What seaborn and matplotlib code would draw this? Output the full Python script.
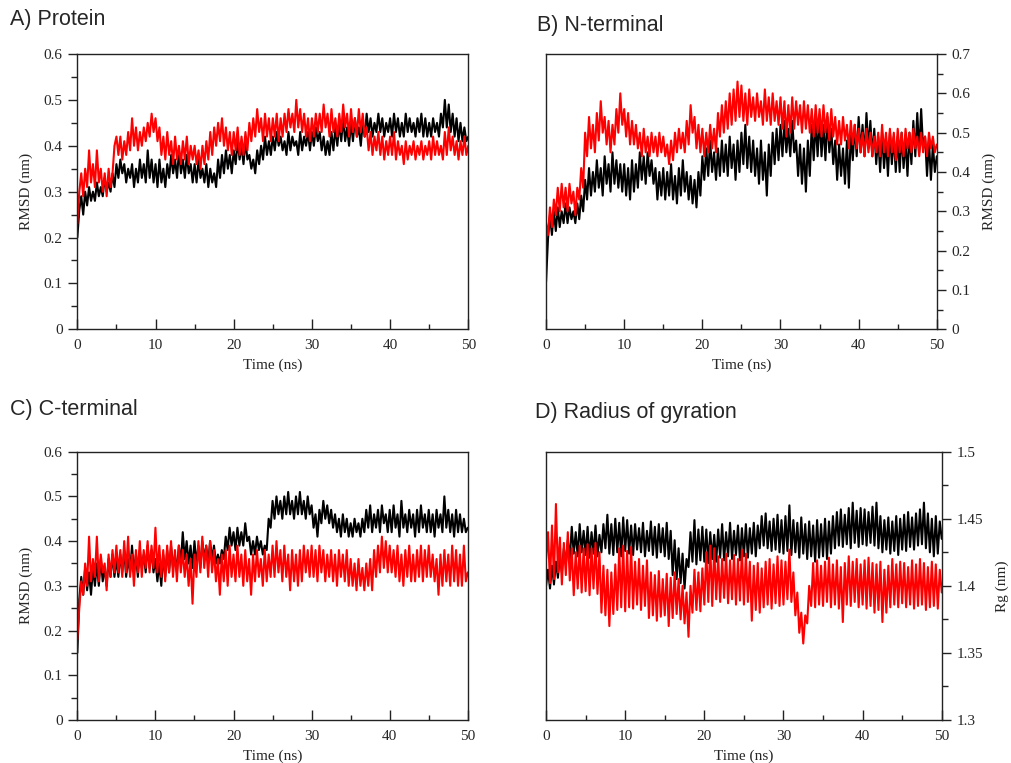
import numpy as np
import pandas as pd
import matplotlib
matplotlib.use("Agg")
import matplotlib.pyplot as plt
import seaborn as sns
from matplotlib.ticker import MultipleLocator, FuncFormatter

sns.set_style("ticks")
plt.rcParams["font.family"] = ["Liberation Serif", "DejaVu Serif"]

# Simulation time axis: one frame every 0.25 ns over 50 ns
time_ns = np.arange(201) * 0.25

# ---- A) Protein backbone RMSD (nm) ----
protein_black = [
    0.20, 0.26, 0.29, 0.25, 0.30, 0.27, 0.31, 0.28, 0.30, 0.28, 0.32, 0.29, 0.31, 0.29, 0.33, 0.30, 0.32, 0.30, 0.34, 0.31,
    0.36, 0.33, 0.37, 0.34, 0.36, 0.32, 0.35, 0.33, 0.36, 0.31, 0.35, 0.32, 0.37, 0.33, 0.36, 0.32, 0.39, 0.33, 0.37, 0.32,
    0.36, 0.31, 0.37, 0.32, 0.35, 0.31, 0.36, 0.33, 0.38, 0.34, 0.37, 0.33, 0.39, 0.34, 0.37, 0.33, 0.38, 0.34, 0.36, 0.32,
    0.36, 0.32, 0.37, 0.33, 0.35, 0.32, 0.36, 0.31, 0.35, 0.32, 0.34, 0.31, 0.37, 0.33, 0.38, 0.34, 0.39, 0.35, 0.38, 0.34,
    0.39, 0.36, 0.41, 0.37, 0.40, 0.36, 0.41, 0.37, 0.38, 0.35, 0.37, 0.34, 0.39, 0.36, 0.40, 0.37, 0.42, 0.38, 0.41, 0.38,
    0.42, 0.39, 0.43, 0.40, 0.42, 0.39, 0.41, 0.38, 0.43, 0.39, 0.42, 0.40, 0.41, 0.38, 0.43, 0.39, 0.42, 0.40, 0.43, 0.39,
    0.43, 0.40, 0.44, 0.41, 0.43, 0.39, 0.42, 0.38, 0.41, 0.38, 0.43, 0.39, 0.44, 0.40, 0.45, 0.41, 0.46, 0.41, 0.44, 0.40,
    0.45, 0.41, 0.46, 0.42, 0.44, 0.40, 0.45, 0.42, 0.47, 0.43, 0.46, 0.42, 0.45, 0.43, 0.47, 0.43, 0.46, 0.42, 0.45, 0.43,
    0.46, 0.42, 0.47, 0.43, 0.46, 0.42, 0.45, 0.42, 0.47, 0.43, 0.46, 0.43, 0.45, 0.42, 0.46, 0.43, 0.47, 0.42, 0.46, 0.42,
    0.45, 0.42, 0.46, 0.43, 0.45, 0.42, 0.47, 0.44, 0.50, 0.44, 0.49, 0.43, 0.47, 0.42, 0.46, 0.41, 0.45, 0.41, 0.44, 0.41,
    0.42,
]
protein_red = [
    0.23, 0.30, 0.34, 0.29, 0.35, 0.31, 0.39, 0.32, 0.36, 0.31, 0.39, 0.32, 0.35, 0.30, 0.34, 0.29, 0.35, 0.31, 0.34, 0.40,
    0.42, 0.38, 0.42, 0.37, 0.41, 0.38, 0.43, 0.39, 0.46, 0.40, 0.44, 0.39, 0.43, 0.40, 0.44, 0.41, 0.45, 0.42, 0.47, 0.43,
    0.46, 0.41, 0.44, 0.38, 0.42, 0.37, 0.43, 0.38, 0.41, 0.36, 0.42, 0.37, 0.40, 0.36, 0.41, 0.37, 0.42, 0.36, 0.40, 0.37,
    0.40, 0.36, 0.39, 0.35, 0.40, 0.36, 0.41, 0.37, 0.43, 0.38, 0.44, 0.40, 0.45, 0.41, 0.46, 0.40, 0.44, 0.39, 0.43, 0.38,
    0.43, 0.39, 0.44, 0.38, 0.42, 0.38, 0.43, 0.39, 0.45, 0.41, 0.46, 0.42, 0.48, 0.43, 0.46, 0.41, 0.47, 0.42, 0.46, 0.41,
    0.46, 0.42, 0.47, 0.41, 0.46, 0.42, 0.47, 0.43, 0.48, 0.44, 0.47, 0.43, 0.50, 0.44, 0.48, 0.43, 0.47, 0.42, 0.46, 0.41,
    0.46, 0.42, 0.47, 0.43, 0.47, 0.43, 0.49, 0.44, 0.47, 0.42, 0.48, 0.43, 0.46, 0.42, 0.47, 0.43, 0.49, 0.44, 0.47, 0.42,
    0.48, 0.43, 0.46, 0.42, 0.48, 0.43, 0.47, 0.42, 0.44, 0.39, 0.43, 0.38, 0.42, 0.39, 0.43, 0.38, 0.42, 0.37, 0.41, 0.38,
    0.42, 0.38, 0.43, 0.37, 0.41, 0.38, 0.40, 0.36, 0.41, 0.37, 0.40, 0.38, 0.41, 0.37, 0.40, 0.38, 0.41, 0.37, 0.40, 0.38,
    0.41, 0.37, 0.42, 0.38, 0.41, 0.38, 0.40, 0.37, 0.43, 0.38, 0.44, 0.39, 0.42, 0.38, 0.41, 0.37, 0.41, 0.38, 0.42, 0.38,
    0.40,
]

# ---- B) N-terminal RMSD (nm) ----
nterm_black = [
    0.12, 0.23, 0.29, 0.24, 0.30, 0.25, 0.31, 0.26, 0.30, 0.27, 0.32, 0.27, 0.31, 0.28, 0.30, 0.27, 0.32, 0.28, 0.34, 0.30,
    0.38, 0.33, 0.41, 0.34, 0.40, 0.35, 0.43, 0.36, 0.41, 0.34, 0.44, 0.37, 0.42, 0.35, 0.45, 0.37, 0.43, 0.36, 0.42, 0.35,
    0.42, 0.34, 0.41, 0.33, 0.43, 0.35, 0.42, 0.36, 0.45, 0.38, 0.44, 0.37, 0.45, 0.39, 0.43, 0.37, 0.41, 0.33, 0.40, 0.34,
    0.41, 0.33, 0.40, 0.34, 0.42, 0.33, 0.39, 0.32, 0.41, 0.34, 0.43, 0.35, 0.40, 0.33, 0.39, 0.32, 0.38, 0.31, 0.40, 0.34,
    0.44, 0.38, 0.46, 0.39, 0.48, 0.40, 0.45, 0.38, 0.46, 0.39, 0.48, 0.40, 0.47, 0.39, 0.49, 0.41, 0.47, 0.38, 0.48, 0.40,
    0.50, 0.42, 0.52, 0.41, 0.49, 0.40, 0.48, 0.39, 0.46, 0.37, 0.48, 0.38, 0.45, 0.34, 0.47, 0.39, 0.50, 0.42, 0.51, 0.43,
    0.52, 0.44, 0.53, 0.45, 0.51, 0.44, 0.53, 0.45, 0.48, 0.39, 0.47, 0.37, 0.46, 0.35, 0.48, 0.39, 0.52, 0.43, 0.53, 0.44,
    0.54, 0.44, 0.52, 0.43, 0.54, 0.45, 0.51, 0.42, 0.48, 0.38, 0.47, 0.39, 0.46, 0.37, 0.48, 0.36, 0.50, 0.43, 0.52, 0.44,
    0.54, 0.45, 0.52, 0.44, 0.55, 0.46, 0.53, 0.44, 0.51, 0.42, 0.49, 0.40, 0.50, 0.41, 0.48, 0.39, 0.50, 0.42, 0.49, 0.40,
    0.49, 0.40, 0.50, 0.41, 0.48, 0.39, 0.50, 0.42, 0.53, 0.44, 0.55, 0.45, 0.56, 0.46, 0.49, 0.39, 0.48, 0.38, 0.47, 0.40,
    0.44,
]
nterm_red = [
    0.27, 0.24, 0.31, 0.26, 0.33, 0.29, 0.36, 0.30, 0.37, 0.31, 0.36, 0.30, 0.37, 0.32, 0.35, 0.29, 0.36, 0.33, 0.41, 0.36,
    0.50, 0.44, 0.54, 0.46, 0.52, 0.45, 0.55, 0.48, 0.58, 0.50, 0.54, 0.47, 0.53, 0.45, 0.52, 0.47, 0.56, 0.50, 0.60, 0.52,
    0.56, 0.49, 0.55, 0.47, 0.53, 0.47, 0.52, 0.46, 0.50, 0.44, 0.51, 0.45, 0.49, 0.44, 0.50, 0.45, 0.49, 0.44, 0.50, 0.45,
    0.49, 0.44, 0.47, 0.42, 0.48, 0.43, 0.50, 0.45, 0.51, 0.46, 0.50, 0.45, 0.53, 0.47, 0.57, 0.50, 0.54, 0.46, 0.52, 0.45,
    0.51, 0.44, 0.50, 0.45, 0.52, 0.46, 0.51, 0.45, 0.55, 0.49, 0.57, 0.50, 0.58, 0.51, 0.60, 0.52, 0.61, 0.53, 0.63, 0.54,
    0.62, 0.53, 0.60, 0.52, 0.61, 0.54, 0.59, 0.53, 0.60, 0.54, 0.58, 0.52, 0.61, 0.53, 0.59, 0.52, 0.60, 0.53, 0.58, 0.52,
    0.59, 0.51, 0.58, 0.49, 0.57, 0.50, 0.59, 0.51, 0.58, 0.52, 0.57, 0.50, 0.58, 0.51, 0.57, 0.50, 0.56, 0.49, 0.57, 0.50,
    0.56, 0.49, 0.57, 0.50, 0.55, 0.48, 0.56, 0.49, 0.54, 0.47, 0.53, 0.47, 0.54, 0.48, 0.52, 0.46, 0.53, 0.47, 0.52, 0.46,
    0.51, 0.45, 0.50, 0.44, 0.51, 0.45, 0.50, 0.44, 0.49, 0.45, 0.50, 0.44, 0.52, 0.45, 0.50, 0.44, 0.51, 0.45, 0.50, 0.43,
    0.51, 0.45, 0.50, 0.44, 0.51, 0.46, 0.50, 0.45, 0.51, 0.46, 0.49, 0.44, 0.50, 0.45, 0.49, 0.44, 0.50, 0.46, 0.49, 0.45,
    0.47,
]

# ---- C) C-terminal RMSD (nm) ----
cterm_black = [
    0.15, 0.27, 0.32, 0.28, 0.34, 0.29, 0.33, 0.28, 0.34, 0.30, 0.35, 0.30, 0.36, 0.31, 0.34, 0.30, 0.36, 0.32, 0.37, 0.32,
    0.36, 0.32, 0.37, 0.33, 0.38, 0.32, 0.36, 0.33, 0.39, 0.33, 0.37, 0.32, 0.38, 0.34, 0.37, 0.33, 0.39, 0.34, 0.38, 0.33,
    0.36, 0.31, 0.35, 0.30, 0.37, 0.32, 0.38, 0.33, 0.39, 0.34, 0.37, 0.33, 0.39, 0.35, 0.42, 0.36, 0.40, 0.35, 0.39, 0.34,
    0.40, 0.35, 0.39, 0.34, 0.40, 0.36, 0.39, 0.35, 0.40, 0.36, 0.39, 0.35, 0.37, 0.35, 0.38, 0.36, 0.41, 0.38, 0.43, 0.39,
    0.42, 0.38, 0.43, 0.39, 0.42, 0.39, 0.44, 0.40, 0.41, 0.37, 0.40, 0.37, 0.41, 0.38, 0.40, 0.37, 0.39, 0.38, 0.45, 0.43,
    0.49, 0.45, 0.50, 0.46, 0.49, 0.45, 0.50, 0.46, 0.51, 0.46, 0.49, 0.45, 0.50, 0.46, 0.51, 0.46, 0.49, 0.45, 0.50, 0.46,
    0.48, 0.43, 0.46, 0.41, 0.47, 0.44, 0.49, 0.45, 0.48, 0.44, 0.47, 0.43, 0.46, 0.42, 0.45, 0.41, 0.46, 0.42, 0.45, 0.41,
    0.44, 0.41, 0.45, 0.42, 0.44, 0.41, 0.45, 0.42, 0.47, 0.43, 0.48, 0.42, 0.46, 0.43, 0.47, 0.42, 0.48, 0.44, 0.46, 0.42,
    0.47, 0.42, 0.48, 0.43, 0.46, 0.41, 0.49, 0.43, 0.46, 0.42, 0.47, 0.43, 0.46, 0.41, 0.47, 0.42, 0.48, 0.43, 0.46, 0.42,
    0.47, 0.42, 0.46, 0.41, 0.47, 0.43, 0.46, 0.42, 0.50, 0.43, 0.47, 0.42, 0.46, 0.41, 0.47, 0.42, 0.46, 0.42, 0.45, 0.42,
    0.43,
]
cterm_red = [
    0.18, 0.25, 0.31, 0.28, 0.35, 0.30, 0.41, 0.31, 0.36, 0.32, 0.41, 0.31, 0.37, 0.33, 0.35, 0.29, 0.37, 0.32, 0.38, 0.33,
    0.39, 0.33, 0.38, 0.32, 0.40, 0.33, 0.41, 0.32, 0.37, 0.30, 0.38, 0.33, 0.40, 0.32, 0.38, 0.34, 0.40, 0.33, 0.39, 0.34,
    0.43, 0.33, 0.39, 0.32, 0.38, 0.31, 0.39, 0.33, 0.40, 0.32, 0.38, 0.31, 0.39, 0.33, 0.38, 0.32, 0.37, 0.30, 0.36, 0.26,
    0.37, 0.32, 0.40, 0.33, 0.41, 0.34, 0.39, 0.32, 0.40, 0.33, 0.38, 0.31, 0.36, 0.28, 0.37, 0.31, 0.38, 0.30, 0.39, 0.32,
    0.37, 0.31, 0.39, 0.32, 0.37, 0.30, 0.38, 0.31, 0.36, 0.28, 0.37, 0.31, 0.38, 0.32, 0.36, 0.30, 0.38, 0.31, 0.37, 0.32,
    0.39, 0.32, 0.40, 0.33, 0.38, 0.31, 0.39, 0.32, 0.37, 0.29, 0.38, 0.31, 0.37, 0.30, 0.38, 0.31, 0.39, 0.33, 0.38, 0.32,
    0.39, 0.32, 0.38, 0.31, 0.39, 0.33, 0.38, 0.31, 0.37, 0.32, 0.38, 0.31, 0.37, 0.30, 0.38, 0.32, 0.37, 0.31, 0.38, 0.30,
    0.36, 0.30, 0.35, 0.29, 0.36, 0.30, 0.34, 0.29, 0.35, 0.30, 0.36, 0.29, 0.38, 0.32, 0.39, 0.33, 0.41, 0.34, 0.40, 0.33,
    0.39, 0.33, 0.38, 0.32, 0.39, 0.31, 0.37, 0.30, 0.38, 0.32, 0.39, 0.31, 0.37, 0.31, 0.38, 0.32, 0.39, 0.31, 0.38, 0.32,
    0.39, 0.32, 0.37, 0.31, 0.36, 0.28, 0.37, 0.30, 0.38, 0.31, 0.37, 0.30, 0.39, 0.31, 0.38, 0.30, 0.37, 0.30, 0.39, 0.31,
    0.33,
]

# ---- D) Radius of gyration (nm) ----
rg_black = [
    1.400, 1.412, 1.398, 1.415, 1.401, 1.418, 1.406, 1.422, 1.410, 1.428, 1.416, 1.434, 1.420, 1.444, 1.424, 1.440, 1.422, 1.446, 1.425, 1.441,
    1.423, 1.444, 1.421, 1.440, 1.424, 1.445, 1.422, 1.438, 1.425, 1.446, 1.428, 1.453, 1.424, 1.446, 1.423, 1.450, 1.425, 1.447, 1.422, 1.451,
    1.426, 1.449, 1.424, 1.445, 1.423, 1.446, 1.427, 1.443, 1.425, 1.447, 1.422, 1.441, 1.426, 1.448, 1.423, 1.444, 1.421, 1.446, 1.425, 1.443,
    1.422, 1.447, 1.420, 1.441, 1.408, 1.434, 1.405, 1.428, 1.402, 1.424, 1.398, 1.420, 1.414, 1.440, 1.418, 1.449, 1.416, 1.442, 1.419, 1.444,
    1.418, 1.442, 1.417, 1.440, 1.420, 1.438, 1.418, 1.442, 1.421, 1.446, 1.419, 1.440, 1.422, 1.447, 1.420, 1.441, 1.423, 1.445, 1.419, 1.443,
    1.422, 1.446, 1.421, 1.443, 1.424, 1.447, 1.422, 1.445, 1.428, 1.452, 1.430, 1.454, 1.428, 1.448, 1.426, 1.450, 1.427, 1.453, 1.425, 1.449,
    1.424, 1.452, 1.426, 1.460, 1.423, 1.449, 1.425, 1.447, 1.421, 1.451, 1.424, 1.446, 1.420, 1.448, 1.422, 1.445, 1.418, 1.449, 1.421, 1.446,
    1.422, 1.450, 1.420, 1.448, 1.424, 1.452, 1.428, 1.455, 1.430, 1.457, 1.429, 1.453, 1.431, 1.458, 1.428, 1.462, 1.432, 1.456, 1.429, 1.458,
    1.431, 1.457, 1.430, 1.455, 1.432, 1.459, 1.430, 1.462, 1.428, 1.452, 1.425, 1.449, 1.427, 1.451, 1.424, 1.448, 1.426, 1.452, 1.423, 1.450,
    1.427, 1.453, 1.426, 1.455, 1.429, 1.451, 1.427, 1.454, 1.430, 1.457, 1.431, 1.462, 1.428, 1.454, 1.425, 1.450, 1.422, 1.452, 1.424, 1.448,
    1.435,
]
rg_red = [
    1.420, 1.440, 1.402, 1.445, 1.405, 1.461, 1.410, 1.436, 1.401, 1.432, 1.408, 1.440, 1.404, 1.428, 1.393, 1.425, 1.398, 1.430, 1.395, 1.428,
    1.396, 1.431, 1.393, 1.428, 1.398, 1.432, 1.394, 1.425, 1.380, 1.415, 1.378, 1.412, 1.370, 1.410, 1.379, 1.416, 1.382, 1.428, 1.384, 1.430,
    1.381, 1.426, 1.384, 1.429, 1.383, 1.418, 1.386, 1.420, 1.382, 1.415, 1.385, 1.419, 1.376, 1.410, 1.378, 1.408, 1.374, 1.411, 1.377, 1.405,
    1.378, 1.409, 1.370, 1.406, 1.376, 1.410, 1.379, 1.405, 1.375, 1.400, 1.372, 1.395, 1.362, 1.400, 1.380, 1.412, 1.382, 1.410, 1.381, 1.413,
    1.386, 1.425, 1.388, 1.430, 1.385, 1.428, 1.390, 1.422, 1.388, 1.420, 1.391, 1.424, 1.387, 1.419, 1.390, 1.423, 1.386, 1.420, 1.389, 1.427,
    1.386, 1.424, 1.388, 1.418, 1.374, 1.415, 1.382, 1.417, 1.380, 1.413, 1.384, 1.418, 1.386, 1.420, 1.383, 1.416, 1.387, 1.422, 1.385, 1.419,
    1.386, 1.418, 1.390, 1.427, 1.388, 1.410, 1.378, 1.395, 1.365, 1.380, 1.357, 1.378, 1.372, 1.400, 1.385, 1.417, 1.384, 1.419, 1.386, 1.415,
    1.385, 1.418, 1.388, 1.421, 1.384, 1.416, 1.386, 1.419, 1.383, 1.414, 1.373, 1.417, 1.386, 1.422, 1.385, 1.418, 1.388, 1.420, 1.384, 1.416,
    1.386, 1.419, 1.383, 1.421, 1.385, 1.417, 1.380, 1.416, 1.382, 1.418, 1.373, 1.412, 1.380, 1.415, 1.384, 1.420, 1.386, 1.416, 1.384, 1.418,
    1.387, 1.417, 1.384, 1.414, 1.386, 1.419, 1.383, 1.416, 1.385, 1.420, 1.386, 1.417, 1.382, 1.414, 1.384, 1.418, 1.385, 1.416, 1.383, 1.412,
    1.395,
]

panel_titles = ["A) Protein", "B) N-terminal", "C) C-terminal", "D) Radius of gyration"]
ylabels = ["RMSD (nm)", "RMSD (nm)", "RMSD (nm)", "Rg (nm)"]
xlabel = "Time (ns)"

LINE_BLACK = "#000000"
LINE_RED = "#ff0000"

fig = plt.figure(figsize=(10.11, 7.63), dpi=100)

# axes rectangles [left, bottom, width, height] in figure fractions
rects = [
    [0.0765, 0.5684, 0.3867, 0.3608],
    [0.5401, 0.5684, 0.3865, 0.3608],
    [0.0765, 0.0564, 0.3862, 0.3516],
    [0.5401, 0.0564, 0.3914, 0.3516],
]
panels = [
    (protein_black, protein_red, (0, 0.6), 0.1, 0.05, "left"),
    (nterm_black, nterm_red, (0, 0.7), 0.1, 0.05, "right"),
    (cterm_black, cterm_red, (0, 0.6), 0.1, 0.05, "left"),
    (rg_black, rg_red, (1.3, 1.5), 0.05, 0.025, "right"),
]
ylabel_pads = [8, 9, 8, 9]
title_pos = [(0.010, 0.974), (0.531, 0.966), (0.010, 0.463), (0.529, 0.459)]

fmt = FuncFormatter(lambda v, _: f"{v:g}")

for i, (rect, (blk, red, ylim, major, minor, side)) in enumerate(zip(rects, panels)):
    ax = fig.add_axes(rect)
    df = pd.DataFrame({"time": np.concatenate([time_ns, time_ns]),
                       "value": np.concatenate([blk, red]),
                       "run": ["black"] * len(time_ns) + ["red"] * len(time_ns)})
    sns.lineplot(data=df[df.run == "black"], x="time", y="value", color=LINE_BLACK,
                 linewidth=1.5, estimator=None, sort=False, ax=ax)
    sns.lineplot(data=df[df.run == "red"], x="time", y="value", color=LINE_RED,
                 linewidth=1.5, estimator=None, sort=False, ax=ax)

    ax.set_xlim(0, 50)
    ax.set_ylim(*ylim)
    ax.xaxis.set_major_locator(MultipleLocator(10))
    ax.xaxis.set_minor_locator(MultipleLocator(5))
    ax.yaxis.set_major_locator(MultipleLocator(major))
    ax.yaxis.set_minor_locator(MultipleLocator(minor))
    ax.xaxis.set_major_formatter(fmt)
    ax.yaxis.set_major_formatter(fmt)

    for s in ax.spines.values():
        s.set_visible(True)
        s.set_linewidth(1.0)
        s.set_color("#222222")

    ax.tick_params(axis="x", which="both", direction="in", top=False, bottom=True,
                   labelsize=11, pad=7, color="#222222")
    ax.tick_params(axis="x", which="major", length=7.5, width=1.0)
    ax.tick_params(axis="x", which="minor", length=3.5, width=1.0)
    if side == "left":
        ax.tick_params(axis="y", which="both", direction="out", left=True, right=False,
                       labelleft=True, labelright=False, labelsize=11, pad=4, color="#222222")
    else:
        ax.yaxis.tick_right()
        ax.yaxis.set_label_position("right")
        ax.tick_params(axis="y", which="both", direction="out", left=False, right=True,
                       labelleft=False, labelright=True, labelsize=11, pad=4, color="#222222")
    ax.tick_params(axis="y", which="major", length=6.5, width=1.0)
    ax.tick_params(axis="y", which="minor", length=4, width=1.0)

    ax.set_xlabel(xlabel, fontsize=11, labelpad=5)
    ax.set_ylabel(ylabels[i], fontsize=11, labelpad=ylabel_pads[i])

    fig.text(title_pos[i][0], title_pos[i][1], panel_titles[i], fontsize=15.5,
             family=["Liberation Sans", "DejaVu Sans"], va="center", ha="left")

fig.savefig("out.png", dpi=100, facecolor="white")
